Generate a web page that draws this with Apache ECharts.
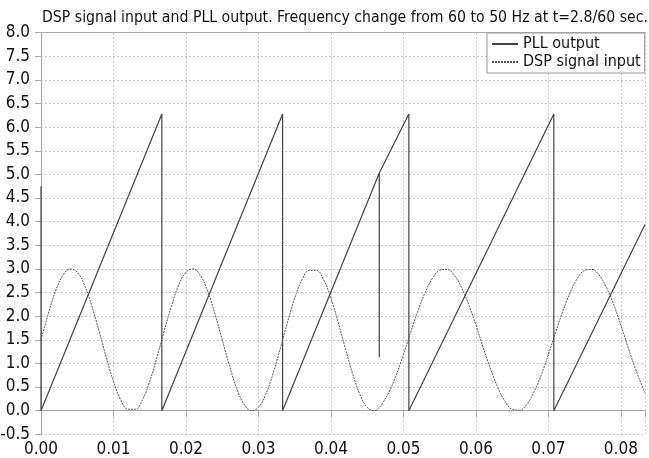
<!DOCTYPE html>
<html>
<head>
<meta charset="utf-8">
<script src="https://cdn.jsdelivr.net/npm/echarts@6/dist/echarts.min.js"></script>
<style>
html,body{margin:0;padding:0;background:#fff;}
#c{width:649px;height:458px;}
</style>
</head>
<body>
<div id="c"></div>
<script>
// Time axis (s) and values
var pllTime = [0, 0, 0.01667, 0.01667, 0.03333, 0.03333, 0.04667, 0.04667, 0.04667, 0.05075, 0.05075, 0.07075, 0.07075, 0.08333];
var pllValue = [4.75, 0, 6.28, 0, 6.28, 0, 5.03, 1.13, 5.03, 6.28, 0, 6.28, 0, 3.94];

var dspTime = [0,0.001,0.002,0.003,0.004,0.005,0.006,0.007,0.008,0.009,0.010,0.011,0.012,0.013,0.014,0.015,0.016,0.017,0.018,0.019,0.020,0.021,0.022,0.023,0.024,0.025,0.026,0.027,0.028,0.029,0.030,0.031,0.032,0.033,0.034,0.035,0.036,0.037,0.038,0.039,0.040,0.041,0.042,0.043,0.044,0.045,0.046,0.04667,0.047,0.048,0.049,0.050,0.051,0.052,0.053,0.054,0.055,0.056,0.057,0.058,0.059,0.060,0.061,0.062,0.063,0.064,0.065,0.066,0.067,0.068,0.069,0.070,0.071,0.072,0.073,0.074,0.075,0.076,0.077,0.078,0.079,0.080,0.081,0.082,0.083,0.08333];
var dspValue = [1.50,2.05,2.53,2.86,3.00,2.93,2.66,2.22,1.69,1.13,0.62,0.23,0.03,0.03,0.23,0.62,1.13,1.69,2.22,2.66,2.93,3.00,2.86,2.53,2.05,1.50,0.95,0.47,0.14,0.00,0.07,0.34,0.78,1.31,1.87,2.38,2.77,2.97,2.97,2.77,2.38,1.87,1.31,0.78,0.34,0.07,0.00,0.07,0.13,0.39,0.75,1.19,1.66,2.11,2.50,2.80,2.97,2.99,2.87,2.61,2.25,1.81,1.34,0.89,0.50,0.20,0.03,0.01,0.13,0.39,0.75,1.19,1.66,2.11,2.50,2.80,2.97,2.99,2.87,2.61,2.25,1.81,1.34,0.89,0.50,0.38];

var xTicks = [0, 0.01, 0.02, 0.03, 0.04, 0.05, 0.06, 0.07, 0.08];
var yTicks = [-0.5,0,0.5,1,1.5,2,2.5,3,3.5,4,4.5,5,5.5,6,6.5,7,7.5,8];

var titleText = 'DSP signal input and PLL output. Frequency change from 60 to 50 Hz at t=2.8/60 sec.';
var seriesNames = ['PLL output', 'DSP signal input'];

function zip(a, b){ return a.map(function(v, i){ return [v, b[i]]; }); }

var CFONT = 'DejaVu Sans Condensed';
var chart = echarts.init(document.getElementById('c'), null, {renderer: 'canvas'});
chart.setOption({
  animation: false,
  backgroundColor: '#ffffff',
  title: {
    text: titleText,
    left: 37, top: 5,
    textStyle: {fontFamily: CFONT, fontSize: 15.7, fontWeight: 'normal', color: '#111'}
  },
  legend: {
    data: seriesNames,
    orient: 'vertical',
    left: 487, top: 33,
    padding: [3, 4, 3, 4],
    itemGap: 2,
    itemWidth: 26, itemHeight: 14,
    backgroundColor: '#fff',
    borderColor: '#999', borderWidth: 1,
    itemStyle: {opacity: 0},
    textStyle: {fontFamily: CFONT, fontSize: 16, color: '#111'}
  },
  grid: {left: 41, right: 4, top: 32.7, bottom: 23.7, containLabel: false, outerBoundsMode: 'none'},
  xAxis: [{
    type: 'value', min: 0, max: 0.08333, interval: 0.01,
    axisLine: {show: true, lineStyle: {color: '#aaa', width: 1}},
    axisTick: {show: true, length: 6, lineStyle: {color: '#aaa'}},
    axisLabel: {
      fontFamily: CFONT, fontSize: 17, color: '#111', margin: 7,
      formatter: function(v){
        for (var i = 0; i < xTicks.length; i++) if (Math.abs(v - xTicks[i]) < 1e-7) return xTicks[i].toFixed(2);
        return '';
      }
    },
    splitLine: {show: true, lineStyle: {color: '#c8c8c8', type: [2, 2], width: 1}}
  }, {
    type: 'value', position: 'top', min: 0, max: 0.08333,
    axisLine: {show: true, lineStyle: {color: '#aaa', width: 1}},
    axisTick: {show: false}, axisLabel: {show: false}, splitLine: {show: false}
  }],
  yAxis: {
    type: 'value', min: -0.5, max: 8, interval: 0.5,
    axisLine: {show: true, lineStyle: {color: '#aaa', width: 1}},
    axisTick: {show: true, length: 6, lineStyle: {color: '#aaa'}},
    axisLabel: {
      fontFamily: CFONT, fontSize: 17, color: '#111', margin: 11,
      formatter: function(v){ return v.toFixed(1); }
    },
    splitLine: {show: true, lineStyle: {color: '#c8c8c8', type: [2, 2], width: 1}}
  },
  series: [{
    name: seriesNames[0], type: 'line', showSymbol: false, symbol: 'none',
    data: zip(pllTime, pllValue),
    lineStyle: {color: '#444', width: 1.2, type: 'solid'},
    itemStyle: {color: '#444'}, z: 3
  }, {
    name: seriesNames[1], type: 'line', showSymbol: false, symbol: 'none', smooth: 0.4,
    data: zip(dspTime, dspValue),
    lineStyle: {color: '#555', width: 1, type: [2, 1]},
    itemStyle: {color: '#555'}, z: 2
  }]
});
</script>
</body>
</html>
